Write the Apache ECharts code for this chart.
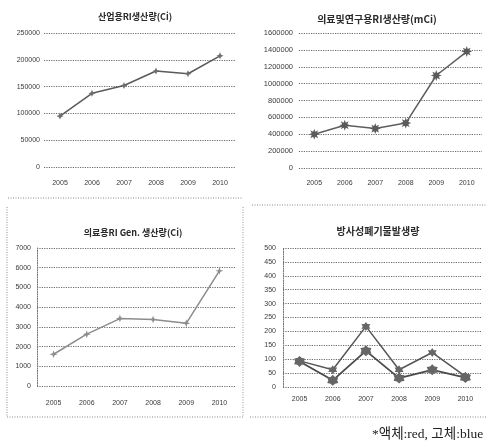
<!DOCTYPE html>
<html>
<head>
<meta charset="utf-8">
<script src="https://cdn.jsdelivr.net/npm/echarts@6/dist/echarts.min.js"></script>
<style>
html,body{margin:0;padding:0;background:#fff;}
#c{width:487px;height:445px;}
</style>
</head>
<body>
<div id="c"></div>
<script>
// ---- data ----
var years = ['2005','2006','2007','2008','2009','2010'];
var industrialRI = [95000, 137500, 152000, 179000, 174000, 207500];
var medicalResearchRI = [400000, 507000, 467000, 532000, 1096000, 1380000];
var medicalGenRI = [1610, 2630, 3420, 3370, 3180, 5840];
var wasteLiquid = [94, 62, 218, 62, 124, 38];
var wasteSolid = [92, 24, 130, 32, 62, 34];

var titles = ['산업용RI생산량(Ci)', '의료및연구용RI생산량(mCi)', '의료용RI Gen. 생산량(Ci)', '방사성폐기물발생량'];
var footnote = '*액체:red, 고체:blue';

// ---- style helpers ----
function starPath(n, inner){
  var pts = [];
  for (var i = 0; i < n * 2; i++) {
    var r = (i % 2 === 0) ? 1 : inner;
    var a = Math.PI * i / n - Math.PI / 2;
    pts.push((r * Math.cos(a)).toFixed(3) + ',' + (r * Math.sin(a)).toFixed(3));
  }
  return 'path://M' + pts.join('L') + 'Z';
}
var FONT = 'Liberation Sans, Arial, sans-serif';
var KFONT = 'Noto Sans CJK KR, sans-serif';
var gridDot = { show: true, lineStyle: { color: '#6a6a6a', type: [1.2, 1.2], width: 1 } };

function xAxisFor(i, margin) {
  return {
    type: 'category', gridIndex: i, data: years, boundaryGap: true,
    axisLine: { show: false },
    axisTick: { show: false },
    axisLabel: { color: '#3a3a3a', fontSize: 7, fontFamily: FONT, margin: margin }
  };
}
function yAxisFor(i, min, max, interval, margin, showLine, fs) {
  return {
    type: 'value', gridIndex: i, min: min, max: max, interval: interval,
    axisLine: { show: showLine, lineStyle: { color: '#777', type: [1.2, 1.2] } },
    axisTick: { show: false },
    splitLine: gridDot,
    axisLabel: { color: '#3a3a3a', fontSize: fs, fontFamily: FONT, margin: margin,
      formatter: function (v) { return String(v); } }
  };
}

var chart = echarts.init(document.getElementById('c'), null, { renderer: 'canvas' });
chart.setOption({
  animation: false,
  backgroundColor: '#ffffff',
  title: [
    { text: titles[0], left: 130, top: 7, textAlign: 'center', textStyle: { fontSize: 9, fontWeight: 'bold', color: '#2a2a2a', fontFamily: KFONT } },
    { text: titles[1], left: 372, top: 9, textAlign: 'center', textStyle: { fontSize: 10, fontWeight: 'bold', color: '#2a2a2a', fontFamily: KFONT } },
    { text: titles[2], left: 128, top: 223, textAlign: 'center', textStyle: { fontSize: 9, fontWeight: 'bold', color: '#2a2a2a', fontFamily: KFONT } },
    { text: titles[3], left: 373, top: 221, textAlign: 'center', textStyle: { fontSize: 10, fontWeight: 'bold', color: '#2a2a2a', fontFamily: KFONT } }
  ],
  grid: [
    { left: 44, top: 33, width: 192, height: 134 },
    { left: 299, top: 33, width: 183, height: 135 },
    { left: 37, top: 248, width: 199, height: 138 },
    { left: 283, top: 248, width: 199, height: 139 }
  ],
  xAxis: [xAxisFor(0, 13), xAxisFor(1, 12), xAxisFor(2, 14), xAxisFor(3, 9)],
  yAxis: [
    yAxisFor(0, 0, 250000, 50000, 4, false, 7),
    yAxisFor(1, 0, 1600000, 200000, 6, false, 7.5),
    yAxisFor(2, 0, 7000, 1000, 6, true, 7),
    yAxisFor(3, 0, 500, 50, 7, true, 7)
  ],
  series: [
    { type: 'line', xAxisIndex: 0, yAxisIndex: 0, data: industrialRI,
      lineStyle: { color: '#5a5a5a', width: 1.5 }, itemStyle: { color: '#6f6f6f' },
      symbol: starPath(4, 0.45), symbolSize: 7 },
    { type: 'line', xAxisIndex: 1, yAxisIndex: 1, data: medicalResearchRI,
      lineStyle: { color: '#5e5e5e', width: 1.5 }, itemStyle: { color: '#5a5a5a' },
      symbol: starPath(8, 0.5), symbolSize: 11 },
    { type: 'line', xAxisIndex: 2, yAxisIndex: 2, data: medicalGenRI,
      lineStyle: { color: '#8c8c8c', width: 1.5 }, itemStyle: { color: '#8c8c8c' },
      symbol: starPath(4, 0.35), symbolSize: 8 },
    { type: 'line', xAxisIndex: 3, yAxisIndex: 3, data: wasteLiquid,
      lineStyle: { color: '#555', width: 1.5 }, itemStyle: { color: '#666' },
      symbol: starPath(6, 0.6), symbolSize: 9 },
    { type: 'line', xAxisIndex: 3, yAxisIndex: 3, data: wasteSolid,
      lineStyle: { color: '#4a4a4a', width: 1.8 }, itemStyle: { color: '#666' },
      symbol: starPath(6, 0.7), symbolSize: 11 }
  ],
  graphic: [
    { type: 'line', shape: { x1: 8, y1: 198, x2: 242, y2: 198 }, style: { stroke: '#888', lineDash: [1, 1.5], lineWidth: 1 } },
    { type: 'line', shape: { x1: 252, y1: 205, x2: 487, y2: 205 }, style: { stroke: '#888', lineDash: [1, 1.5], lineWidth: 1 } },
    { type: 'line', shape: { x1: 7, y1: 207, x2: 7, y2: 417 }, style: { stroke: '#888', lineDash: [1, 1.5], lineWidth: 1 } },
    { type: 'line', shape: { x1: 243, y1: 207, x2: 243, y2: 417 }, style: { stroke: '#999', lineDash: [1, 1.5], lineWidth: 1 } },
    { type: 'line', shape: { x1: 7, y1: 417, x2: 243, y2: 417 }, style: { stroke: '#888', lineDash: [1, 1.5], lineWidth: 1 } },
    { type: 'line', shape: { x1: 250, y1: 417, x2: 487, y2: 417 }, style: { stroke: '#888', lineDash: [1, 1.5], lineWidth: 1 } },
    { type: 'text', left: 372, top: 428, style: { text: footnote, fill: '#222', font: '13.5px "Liberation Serif", "Noto Sans CJK KR", serif' } }
  ]
});
</script>
</body>
</html>
